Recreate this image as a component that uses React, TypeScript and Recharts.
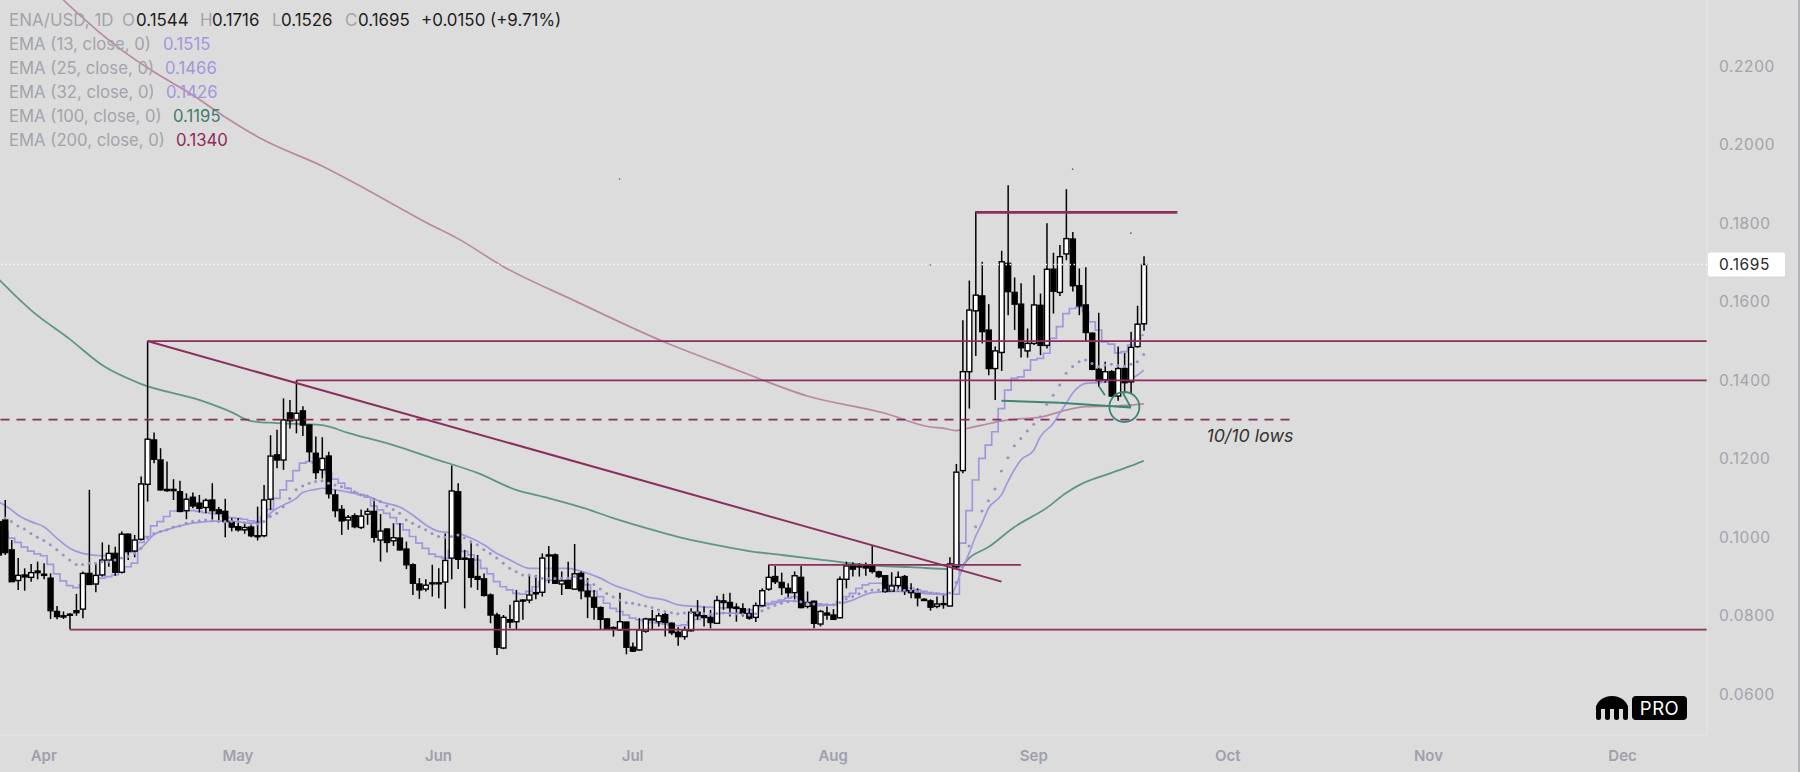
import { ComposedChart, Bar, Line, XAxis, YAxis, ReferenceLine, ReferenceDot } from "recharts";

const firstDay = -1;

const opens = [
  .1040, .1044, .0968, .0890, .0904, .0898, .0914, .0906, .0896, .0811, .0800,
  .0804, .0813, .0817, .0908, .0881, .0904, .0942, .0959, .0911, .1008,
  .0965, .0995, .1135, .1248, .1197, .1122, .1122, .1116, .1068, .1102,
  .1087, .1076, .1095, .1070, .1066, .1038, .1027, .1019, .1026, .1004,
  .1004, .1097, .1210, .1197, .1317, .1299, .1322, .1286, .1214, .1172,
  .1207, .1108, .1071, .1044, .1055, .1025, .1059, .1066, .0993, .1021,
  .0991, .0998, .0970, .0930, .0881, .0868, .0884, .0884, .0886, .0947,
  .1116, .0947, .0945, .0900, .0894, .0853, .0802, .0718, .0790, .0785,
  .0840, .0840, .0859, .0860, .0955, .0955, .0881, .0890, .0868, .0908,
  .0863, .0847, .0821, .0792, .0770, .0764, .0784, .0720, .0713, .0761,
  .0792, .0785, .0803, .0781, .0758, .0747, .0762, .0809, .0800, .0795,
  .0781, .0838, .0834, .0822, .0818, .0805, .0796, .0826, .0868, .0900,
  .0885, .0870, .0859, .0898, .0824, .0837, .0779, .0807, .0802, .0795,
  .0893, .0930, .0927, .0928, .0927, .0912, .0902, .0863, .0877, .0900,
  .0864, .0857, .0842, .0838, .0824, .0831, .0825, .0925, .1170, .1422,
  .1577, .1615, .1528, .1430, .1471, .1698, .1624, .1594, .1475, .1494,
  .1591, .1489, .1683, .1624, .1722, .1760, .1641, .1592, .1520, .1428,
  .1401, .1422, .1360, .1430, .1396, .1486, .1544,
];
const closes = [
  .0955, .0961, .0887, .0903, .0899, .0910, .0910, .0903, .0813, .0798, .0797,
  .0802, .0808, .0908, .0880, .0903, .0942, .0959, .0911, .1008, .0964,
  .0993, .1136, .1250, .1199, .1121, .1119, .1119, .1066, .1097, .1080,
  .1074, .1094, .1068, .1061, .1040, .1026, .1019, .1025, .1004, .1002,
  .1095, .1207, .1197, .1299, .1297, .1316, .1286, .1218, .1165, .1201,
  .1111, .1068, .1042, .1051, .1027, .1054, .1066, .1000, .1016, .0987,
  .0999, .0968, .0930, .0883, .0866, .0878, .0882, .0882, .0941, .1118,
  .0944, .0944, .0898, .0893, .0852, .0802, .0720, .0796, .0784, .0837,
  .0838, .0853, .0856, .0947, .0953, .0883, .0889, .0870, .0907, .0864,
  .0849, .0822, .0791, .0766, .0767, .0785, .0720, .0710, .0764, .0792,
  .0790, .0800, .0783, .0757, .0747, .0764, .0809, .0800, .0796, .0783,
  .0839, .0834, .0821, .0819, .0807, .0794, .0826, .0864, .0898, .0887,
  .0872, .0859, .0902, .0821, .0834, .0781, .0811, .0802, .0791, .0893,
  .0927, .0919, .0925, .0922, .0913, .0900, .0862, .0876, .0898, .0864,
  .0859, .0846, .0839, .0822, .0830, .0829, .0932, .1166, .1422, .1579,
  .1617, .1524, .1430, .1475, .1702, .1626, .1594, .1483, .1494, .1592,
  .1489, .1683, .1627, .1715, .1761, .1641, .1590, .1522, .1428, .1399,
  .1422, .1360, .1430, .1394, .1484, .1543, .1695,
];
const highs = [
  .1060, .1095, .0993, .0947, .0921, .0932, .0938, .0934, .0908, .0825, .0811,
  .0807, .0856, .0913, .1121, .0934, .0987, .0981, .0976, .1015, .1010,
  .1006, .1155, .1500, .1267, .1227, .1193, .1148, .1144, .1112, .1114,
  .1108, .1099, .1138, .1077, .1098, .1049, .1049, .1034, .1036, .1078,
  .1133, .1260, .1274, .1354, .1350, .1400, .1334, .1288, .1257, .1255,
  .1218, .1121, .1082, .1057, .1061, .1071, .1074, .1099, .1059, .1023,
  .1036, .1036, .0989, .0934, .0896, .0893, .0930, .0921, .1010, .1183,
  .1138, .0968, .0985, .0955, .0908, .0857, .0808, .0802, .0828, .0866,
  .0842, .0904, .0904, .0959, .0978, .0959, .0913, .0938, .0983, .0913,
  .0896, .0866, .0824, .0794, .0773, .0859, .0785, .0732, .0794, .0795,
  .0815, .0808, .0808, .0783, .0771, .0773, .0819, .0840, .0824, .0815,
  .0851, .0856, .0859, .0832, .0832, .0819, .0834, .0870, .0930, .0927,
  .0910, .0883, .0913, .0927, .0862, .0839, .0815, .0824, .0817, .0900,
  .0938, .0936, .0934, .0936, .0979, .0915, .0904, .0911, .0913, .0904,
  .0883, .0870, .0845, .0842, .0849, .0853, .0949, .1187, .1553, .1654,
  .1830, .1702, .1594, .1486, .1730, .1897, .1662, .1647, .1532, .1668,
  .1621, .1800, .1725, .1745, .1887, .1778, .1685, .1688, .1522, .1572,
  .1447, .1426, .1486, .1470, .1524, .1590, .1716,
];
const lows = [
  .0945, .0955, .0887, .0866, .0864, .0887, .0893, .0893, .0792, .0791, .0792,
  .0766, .0800, .0794, .0879, .0860, .0900, .0925, .0902, .0908, .0942,
  .0949, .0992, .1091, .1189, .1119, .1116, .1095, .1064, .1046, .1074,
  .1063, .1061, .1042, .1044, .1000, .1015, .1015, .1009, .1000, .0992,
  .1000, .1070, .1176, .1172, .1277, .1265, .1258, .1193, .1148, .1150,
  .1099, .1051, .1006, .1019, .1023, .1021, .1032, .0987, .0938, .0961,
  .0978, .0966, .0919, .0853, .0843, .0862, .0849, .0845, .0818, .0893,
  .0919, .0819, .0872, .0866, .0849, .0781, .0700, .0715, .0768, .0766,
  .0790, .0832, .0842, .0849, .0883, .0881, .0853, .0868, .0866, .0842,
  .0794, .0790, .0766, .0764, .0747, .0762, .0702, .0708, .0711, .0757,
  .0766, .0773, .0747, .0751, .0724, .0739, .0760, .0790, .0773, .0768,
  .0779, .0815, .0798, .0785, .0798, .0790, .0784, .0824, .0864, .0881,
  .0853, .0847, .0842, .0819, .0819, .0768, .0773, .0790, .0790, .0794,
  .0870, .0900, .0900, .0902, .0908, .0896, .0859, .0862, .0862, .0853,
  .0845, .0824, .0838, .0813, .0819, .0818, .0824, .0919, .1163, .1328,
  .1462, .1494, .1413, .1350, .1424, .1566, .1528, .1458, .1458, .1490,
  .1464, .1481, .1570, .1615, .1706, .1626, .1566, .1498, .1426, .1384,
  .1394, .1358, .1348, .1367, .1367, .1483, .1526,
];

// stepped purple line, one value per day from day 0
const ema13 = [
  .1015, .0998, .0987, .0975, .0965, .0958, .0953, .0931, .0907, .0889,
  .0877, .0872, .0879, .0883, .0887, .0896, .0900, .0904, .0913, .0925,
  .0934, .0987, .1002, .1029, .1040, .1053, .1067, .1068, .1068, .1068,
  .1066, .1063, .1061, .1059, .1053, .1050, .1048, .1046, .1042, .1040,
  .1053, .1071, .1099, .1121, .1144, .1170, .1189, .1193, .1189, .1176,
  .1163, .1148, .1138, .1125, .1114, .1109, .1102, .1080, .1070, .1061,
  .1050, .1034, .1019, .1002, .0985, .0972, .0957, .0951, .0947, .0966,
  .0981, .0964, .0955, .0942, .0921, .0907, .0887, .0874, .0866, .0857,
  .0855, .0862, .0874, .0887, .0891, .0891, .0891, .0891, .0896, .0887,
  .0879, .0862, .0849, .0832, .0819, .0811, .0802, .0794, .0790, .0785,
  .0783, .0781, .0779, .0777, .0775, .0777, .0785, .0791, .0795, .0798,
  .0805, .0807, .0807, .0807, .0807, .0808, .0815, .0825, .0832, .0836,
  .0840, .0845, .0849, .0840, .0832, .0826, .0826, .0828, .0828, .0836,
  .0849, .0857, .0870, .0879, .0883, .0883, .0881, .0879, .0877, .0874,
  .0870, .0866, .0862, .0859, .0857, .0855, .0855, .0855, .0985, .1068,
  .1146, .1201, .1235, .1269, .1328, .1375, .1405, .1409, .1426, .1452,
  .1456, .1469, .1507, .1537, .1570, .1583, .1587, .1575, .1549, .1528,
  .1498, .1492, .1470, .1473, .1490, .1503, .1515,
];
// dotted purple line, one value per day from day 0
const ema25 = [
  .1049, .1040, .1029, .1021, .1010, .1000, .0992, .0981, .0968, .0955,
  .0942, .0931, .0931, .0934, .0934, .0938, .0938, .0942, .0947, .0951,
  .0959, .0972, .0998, .1010, .1015, .1019, .1026, .1029, .1036, .1040,
  .1042, .1044, .1043, .1040, .1040, .1040, .1040, .1037, .1034, .1034,
  .1040, .1053, .1061, .1078, .1099, .1121, .1131, .1138, .1142, .1144,
  .1138, .1133, .1129, .1125, .1116, .1108, .1105, .1095, .1091, .1080,
  .1071, .1061, .1044, .1036, .1027, .1019, .1010, .1002, .1000, .1002,
  .1006, .0998, .0989, .0981, .0968, .0959, .0947, .0934, .0921, .0912,
  .0904, .0904, .0900, .0896, .0895, .0895, .0896, .0896, .0900, .0896,
  .0888, .0880, .0868, .0857, .0848, .0840, .0833, .0832, .0828, .0825,
  .0821, .0815, .0811, .0808, .0805, .0807, .0808, .0808, .0806, .0804,
  .0806, .0807, .0806, .0805, .0804, .0802, .0805, .0813, .0820, .0827,
  .0832, .0836, .0838, .0836, .0832, .0830, .0829, .0828, .0828, .0834,
  .0843, .0849, .0856, .0862, .0866, .0866, .0866, .0866, .0866, .0865,
  .0864, .0862, .0860, .0858, .0857, .0855, .0858, .0885, .0925, .0978,
  .1027, .1067, .1093, .1123, .1169, .1203, .1233, .1252, .1271, .1288,
  .1307, .1339, .1362, .1388, .1418, .1435, .1447, .1452, .1443, .1435,
  .1439, .1441, .1438, .1436, .1441, .1447, .1466,
];

const ema32Days = [-1, 1, 2, 4, 6, 8, 10, 12, 15, 17, 18, 20, 21, 22, 23, 25, 27, 29, 31, 34, 36, 38, 40, 41, 43, 45, 46, 48, 49, 51, 54, 56, 58, 61, 63, 65, 67, 70, 72, 74, 76, 77, 79, 81, 84, 87, 89, 92, 94, 97, 99, 102, 104, 107, 110, 113, 115, 116, 118, 121, 125, 128, 131, 134, 138, 143, 146, 148, 149, 150, 151, 152, 154, 155, 156, 157, 159, 160, 162, 163, 164, 165, 166, 167, 169, 174, 175, 176];
const ema32Values = [.1091, .1070, .1057, .1040, .1027, .0998, .0972, .0959, .0953, .0955, .0959, .0964, .0972, .0989, .1006, .1019, .1029, .1036, .1040, .1042, .1040, .1036, .1040, .1061, .1082, .1099, .1114, .1122, .1125, .1121, .1112, .1105, .1091, .1077, .1057, .1032, .1015, .1010, .0998, .0981, .0959, .0951, .0934, .0921, .0921, .0921, .0914, .0896, .0879, .0862, .0849, .0840, .0828, .0824, .0821, .0819, .0815, .0819, .0828, .0838, .0832, .0828, .0840, .0859, .0862, .0856, .0853, .0921, .0959, .1002, .1036, .1074, .1108, .1142, .1172, .1197, .1222, .1256, .1290, .1316, .1341, .1367, .1384, .1392, .1394, .1405, .1413, .1426];

const ema100Days = [-1, 4, 10, 15, 21, 30, 35, 38, 42, 49, 53, 60, 66, 73, 79, 84, 89, 94, 99, 104, 109, 115, 120, 125, 130, 135, 140, 146, 148, 149, 152, 156, 161, 164, 166, 171, 174, 176];
const ema100Values = [.1658, .1579, .1505, .1439, .1391, .1350, .1319, .1296, .1291, .1286, .1266, .1235, .1202, .1164, .1121, .1100, .1077, .1049, .1024, .1001, .0983, .0965, .0955, .0945, .0935, .0927, .0924, .0919, .0929, .0947, .0975, .1026, .1075, .1113, .1133, .1164, .1182, .1195];

const ema200Days = [9, 14, 18, 23, 29, 34, 40, 49, 56, 65, 70, 77, 88, 102, 113, 124, 136, 143, 145, 147, 148, 151, 155, 160, 164, 167, 171, 176];
const ema200Values = [.2369, .2295, .2242, .2186, .2127, .2071, .2012, .1946, .1885, .1803, .1761, .1690, .1603, .1497, .1427, .1360, .1316, .1281, .1278, .1272, .1275, .1286, .1299, .1306, .1324, .1333, .1334, .1340];

const monthDays = [6, 36, 67, 97, 128, 159, 189, 220, 250];
const monthNames = ["Apr", "May", "Jun", "Jul", "Aug", "Sep", "Oct", "Nov", "Dec"];
const priceTicks = [0.06, 0.08, 0.1, 0.12, 0.14, 0.16, 0.18, 0.2, 0.22];
const lastPrice = 0.1695;

const hLevels = [
  { from: 22, to: 263, price: 0.15 },
  { from: 45, to: 263, price: 0.14 },
  { from: 10, to: 263, price: 0.0765 },
  { from: 118, to: 157, price: 0.093 },
];
const specks = [[165, 0.1938], [95, 0.1913], [143, 0.1694], [174, 0.1775]];

const table = opens.map((open, i) => {
  const day = firstDay + i;
  return {
    day, open,
    close: closes[i],
    high: highs[i],
    low: lows[i],
    range: [lows[i], highs[i]],
    ema13: day >= 0 ? ema13[day] : undefined,
    ema25: day >= 0 ? ema25[day] : undefined,
    ema32: ema32Days.includes(day) ? ema32Values[ema32Days.indexOf(day)] : undefined,
    ema100: ema100Days.includes(day) ? ema100Values[ema100Days.indexOf(day)] : undefined,
    ema200: ema200Days.includes(day) ? ema200Values[ema200Days.indexOf(day)] : undefined,
  };
});

const BG = "#dcdcdc";
const WINE = "#8a2f5c";
const TEAL = "#3f8574";
const PURPLE = "#a596dc";
const GREY = "#a3a3ab";
const FONT = "Inter, 'Noto Sans', sans-serif";

function Candle({ x, y, width, height, payload }: any) {
  const { open, close, high, low } = payload;
  const perUnit = height / (high - low);
  const top = y + (high - Math.max(open, close)) * perUnit;
  const bottom = y + (high - Math.min(open, close)) * perUnit;
  const mid = x + width / 2;
  const up = close >= open;
  return (
    <g>
      <line x1={mid} x2={mid} y1={y} y2={y + height} stroke="#000" strokeWidth={1.5} />
      <rect x={x} y={top} width={width} height={Math.max(bottom - top, 1)} fill={up ? "#fff" : "#000"} stroke="#000" strokeWidth={1.4} />
    </g>
  );
}

function PriceTag({ viewBox }: any) {
  const y = viewBox.y;
  return (
    <g>
      <rect x={1708} y={y - 12} width={77} height={24} rx={2} fill="#fff" />
      <text x={1719} y={y + 5.5} fontSize={15.5} fontFamily={FONT} fill="#2a2a2a" letterSpacing={0.6}>{lastPrice.toFixed(4)}</text>
    </g>
  );
}

function Header() {
  const row = { position: "absolute", whiteSpace: "pre", lineHeight: "20px" } as const;
  const abs = (left: number, color: string, text: string) => (
    <span style={{ position: "absolute", left, color }}>{text}</span>
  );
  const emaRows = [
    ["EMA (13, close, 0)", "0.1515", PURPLE, 44, 163],
    ["EMA (25, close, 0)", "0.1466", PURPLE, 68, 165],
    ["EMA (32, close, 0)", "0.1426", PURPLE, 92, 166],
    ["EMA (100, close, 0)", "0.1195", "#3f7d6a", 116, 173],
    ["EMA (200, close, 0)", "0.1340", "#8f2a58", 140, 176],
  ] as const;
  return (
    <div style={{ position: "absolute", left: 0, top: 0, fontFamily: FONT }}>
      <div style={{ ...row, top: 10, left: 0, fontSize: 16.9 }}>
        {abs(9, GREY, "ENA/USD, 1D")}
        {abs(122, GREY, "O")}
        {abs(136, "#1c1c1c", "0.1544")}
        {abs(200, GREY, "H")}
        {abs(212, "#1c1c1c", "0.1716")}
        {abs(272, GREY, "L")}
        {abs(281, "#1c1c1c", "0.1526")}
        {abs(345, GREY, "C")}
        {abs(358, "#1c1c1c", "0.1695")}
        {abs(421, "#1c1c1c", "+0.0150 (+9.71%)")}
      </div>
      {emaRows.map(([name, value, color, y, valueX]) => (
        <div key={name} style={{ ...row, top: y - 10, left: 0, fontSize: 16.7 }}>
          {abs(9, GREY, name)}
          {abs(valueX, color, value)}
        </div>
      ))}
    </div>
  );
}

function Logo() {
  return (
    <svg width={92} height={24} style={{ position: "absolute", left: 1596, top: 696 }}>
      <path d="M0 13 A16 13 0 0 1 32 13 Z" fill="#000" />
      {[2.5, 11.5, 20.5, 29.5].map((x) => (
        <line key={x} x1={x} x2={x} y1={11} y2={21.5} stroke="#000" strokeWidth={5} strokeLinecap="round" />
      ))}
      <rect x={36} y={0} width={55} height={24} rx={4} fill="#000" />
      <text x={63.5} y={18.5} textAnchor="middle" fontFamily={FONT} fontSize={18.5} fill="#fff" letterSpacing={0.5}>PRO</text>
    </svg>
  );
}

export default function App() {
  return (
    <div style={{ position: "fixed", left: 0, top: 0, width: 1800, height: 772, background: BG, overflow: "hidden" }}>
      <ComposedChart width={1800} height={772} data={table} margin={{ top: 0, right: 0, left: 0, bottom: 0 }}>
        <XAxis
          type="number" dataKey="day" domain={[-0.773, 263.05]} allowDataOverflow
          ticks={monthDays} interval={0} height={37} tickSize={0} tickMargin={15}
          tickFormatter={(d) => monthNames[monthDays.indexOf(d)]}
          axisLine={{ stroke: "#e6e6e8" }} tickLine={false}
          tick={{ fill: "#a0a0ac", fontSize: 15, fontWeight: 600, fontFamily: FONT }}
        />
        <YAxis
          orientation="right" type="number" domain={[0.04963, 0.2369]} allowDataOverflow
          ticks={priceTicks} interval={0} width={93} tickSize={0} tickMargin={12}
          tickFormatter={(v) => v.toFixed(4)}
          axisLine={{ stroke: "#e6e6e8" }} tickLine={false}
          tick={{ fill: GREY, fontSize: 15.5, fontFamily: FONT, textAnchor: "start", letterSpacing: 0.6 }}
        />

        <Line dataKey="ema200" type="monotone" stroke="#b88aa0" strokeWidth={1.7} dot={false} connectNulls isAnimationActive={false} />
        <Line dataKey="ema100" type="monotone" stroke="#5f9584" strokeWidth={1.8} dot={false} connectNulls isAnimationActive={false} />
        <Line dataKey="ema32" type="monotone" stroke={PURPLE} strokeWidth={1.7} dot={false} connectNulls isAnimationActive={false} />
        <Line dataKey="ema25" stroke="none" dot={{ r: 1.5, fill: "#9a90c4", stroke: "none" }} isAnimationActive={false} />
        <Line dataKey="ema13" type="step" stroke={PURPLE} strokeWidth={1.7} dot={false} isAnimationActive={false} />

        <Bar dataKey="range" barSize={5} shape={Candle} isAnimationActive={false} zIndex={450} />

        <ReferenceLine y={lastPrice} stroke="#fff" strokeDasharray="1.5 2.5" strokeWidth={1.4} label={<PriceTag />} zIndex={500} />
        {hLevels.map((l) => (
          <ReferenceLine key={l.price} segment={[{ x: l.from, y: l.price }, { x: l.to, y: l.price }]} stroke={WINE} strokeWidth={1.7} zIndex={500} />
        ))}
        <ReferenceLine segment={[{ x: -0.7, y: 0.13 }, { x: 199.5, y: 0.13 }]} stroke={WINE} strokeWidth={1.8} strokeDasharray="9 7" zIndex={500} />
        <ReferenceLine segment={[{ x: 150, y: 0.1828 }, { x: 181.2, y: 0.1828 }]} stroke={WINE} strokeWidth={2.8} zIndex={500} />
        <ReferenceLine segment={[{ x: 22, y: 0.15 }, { x: 154, y: 0.0887 }]} stroke={WINE} strokeWidth={2} zIndex={500} />

        <ReferenceLine segment={[{ x: 154, y: 0.1348 }, { x: 163, y: 0.1343 }]} stroke={TEAL} strokeWidth={2} zIndex={500} />
        <ReferenceLine segment={[{ x: 163, y: 0.1343 }, { x: 174, y: 0.1331 }]} stroke={TEAL} strokeWidth={2} zIndex={500} />
        <ReferenceLine segment={[{ x: 172.8, y: 0.1367 }, { x: 174, y: 0.1331 }]} stroke={TEAL} strokeWidth={1.8} zIndex={500} />
        <ReferenceLine segment={[{ x: 172.3, y: 0.1334 }, { x: 174, y: 0.1331 }]} stroke={TEAL} strokeWidth={1.8} zIndex={500} />
        <ReferenceLine segment={[{ x: 169.1, y: 0.1384 }, { x: 170, y: 0.1362 }]} stroke={TEAL} strokeWidth={1.8} zIndex={500} />
        <ReferenceDot x={173} y={0.1332} r={15} fill="none" stroke={TEAL} strokeWidth={1.8} zIndex={500} />

        {specks.map(([d, v]) => (
          <ReferenceDot key={d} x={d} y={v} r={0.8} fill="#555" stroke="none" />
        ))}
        <ReferenceDot
          x={192.4} y={0.1258} r={0} fill="none" stroke="none"
          label={{ value: "10/10 lows", position: "center", fontSize: 17.8, fontStyle: "italic", fontFamily: FONT, fill: "#333" }}
        />
      </ComposedChart>
      <Header />
      <Logo />
      <div style={{ position: "absolute", left: 1798, top: 0, width: 2, height: 772, background: "#b4b4b6" }} />
    </div>
  );
}
